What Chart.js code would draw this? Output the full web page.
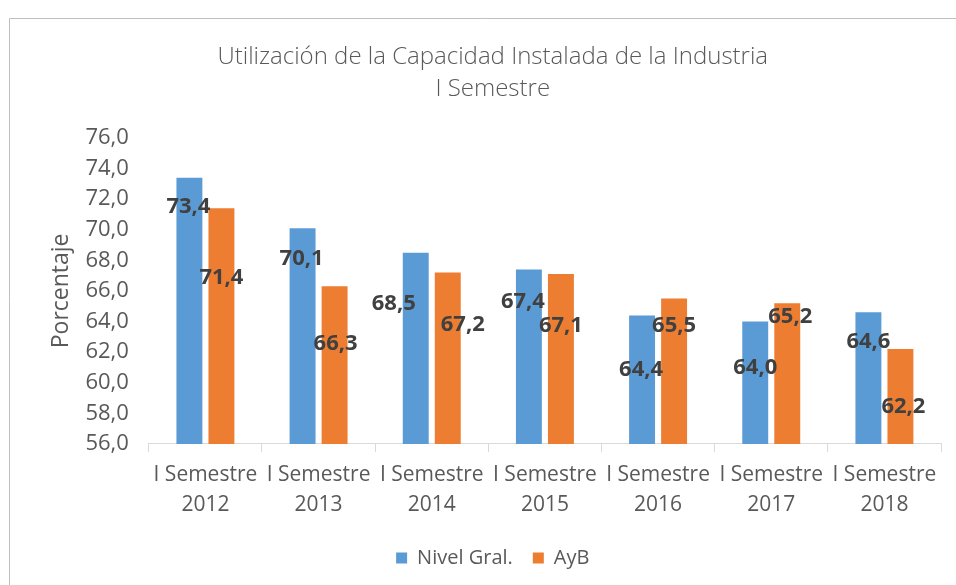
<!DOCTYPE html>
<html>
<head>
<meta charset="utf-8">
<script src="https://cdn.jsdelivr.net/npm/chart.js@4.4.0/dist/chart.umd.min.js"></script>
<style>
    html, body { margin: 0; padding: 0; background: #fff; overflow: hidden; }
    #wrap { width: 956px; height: 585px; }
</style>
</head>
<body>
<div id="wrap"><canvas id="chartUCI"></canvas></div>
<script>
// Categories and values
const categories = [
    ['I Semestre', '2012'], ['I Semestre', '2013'], ['I Semestre', '2014'],
    ['I Semestre', '2015'], ['I Semestre', '2016'], ['I Semestre', '2017'],
    ['I Semestre', '2018']
];
const nivelGral = [73.4, 70.1, 68.5, 67.4, 64.4, 64.0, 64.6];
const ayb = [71.4, 66.3, 67.2, 67.1, 65.5, 65.2, 62.2];
const yMin = 56, yMax = 76, yStep = 2;

// where each value label sits, in px from the top centre of its bar
const nivelLabelOffsets = [[-1, 29], [-1, 31], [-22, 51], [-6, 32], [-1, 54], [0, 46], [0, 29]];
const aybLabelOffsets = [[0, 69], [1, 57], [15, 52], [0, 52], [0, 27], [3, 14], [3, 58]];

const fmt = v => Number(v).toFixed(1).replace('.', ',');
const grey = '#595959';

// thin frame on top and left like the original picture
const framePlugin = {
    id: 'frame',
    beforeDraw(chart) {
        const c = chart.ctx;
        c.save();
        c.strokeStyle = '#BFBFBF';
        c.lineWidth = 1;
        c.beginPath();
        c.moveTo(9.5, chart.height);
        c.lineTo(9.5, 18.5);
        c.lineTo(chart.width, 18.5);
        c.stroke();
        c.restore();
    }
};

const valueLabels = {
    id: 'valueLabels',
    afterDatasetsDraw(chart) {
        const c = chart.ctx;
        const offsets = [nivelLabelOffsets, aybLabelOffsets];
        c.save();
        c.font = 'bold 22px "Open Sans"';
        c.fillStyle = '#404040';
        c.textAlign = 'center';
        c.textBaseline = 'middle';
        chart.data.datasets.forEach((ds, i) => {
            chart.getDatasetMeta(i).data.forEach((bar, j) => {
                const off = offsets[i][j];
                c.fillText(fmt(ds.data[j]), bar.x + off[0], bar.y + off[1]);
            });
        });
        c.restore();
    }
};

const ctx = document.getElementById('chartUCI').getContext('2d');
const chartUCI = new Chart(ctx, {
    type: 'bar',
    data: {
        labels: categories,
        datasets: [{
            label: 'Nivel Gral.',
            data: nivelGral,
            backgroundColor: '#5B9BD5'
        }, {
            label: 'AyB',
            data: ayb,
            backgroundColor: '#ED7D31'
        }]
    },
    options: {
        responsive: true,
        maintainAspectRatio: false,
        animation: false,
        categoryPercentage: 0.566,
        barPercentage: 0.81,
        layout: { padding: { left: 44.5, right: 15, top: 0, bottom: 7 } },
        plugins: {
            title: {
                display: true,
                text: ['Utilización de la Capacidad Instalada de la Industria', 'I Semestre'],
                color: grey,
                font: { family: 'Open Sans', size: 24, weight: '300', lineHeight: 1.33 },
                padding: { top: 41, bottom: 33 }
            },
            legend: {
                position: 'bottom',
                labels: {
                    boxWidth: 11,
                    boxHeight: 11,
                    padding: 20,
                    color: grey,
                    font: { family: 'Open Sans', size: 20 }
                }
            },
            tooltip: { enabled: false }
        },
        scales: {
            x: {
                grid: {
                    display: true,
                    offset: true,
                    drawOnChartArea: false,
                    tickLength: 8,
                    color: '#D9D9D9'
                },
                border: { color: '#D9D9D9' },
                ticks: {
                    color: grey,
                    autoSkip: false,
                    maxRotation: 0,
                    padding: 8,
                    font: { family: 'Open Sans', size: 21, lineHeight: 1.43 }
                }
            },
            y: {
                min: yMin,
                max: yMax,
                grid: { display: false, drawTicks: false },
                border: { display: false },
                ticks: {
                    stepSize: yStep,
                    color: grey,
                    padding: 20,
                    font: { family: 'Open Sans', size: 22 },
                    callback: v => fmt(v)
                },
                title: {
                    display: true,
                    text: 'Porcentaje',
                    color: grey,
                    font: { family: 'Open Sans', size: 23, lineHeight: 0.3 },
                    padding: { top: 14, bottom: 0 }
                }
            }
        }
    },
    plugins: [framePlugin, valueLabels]
});
</script>
</body>
</html>
